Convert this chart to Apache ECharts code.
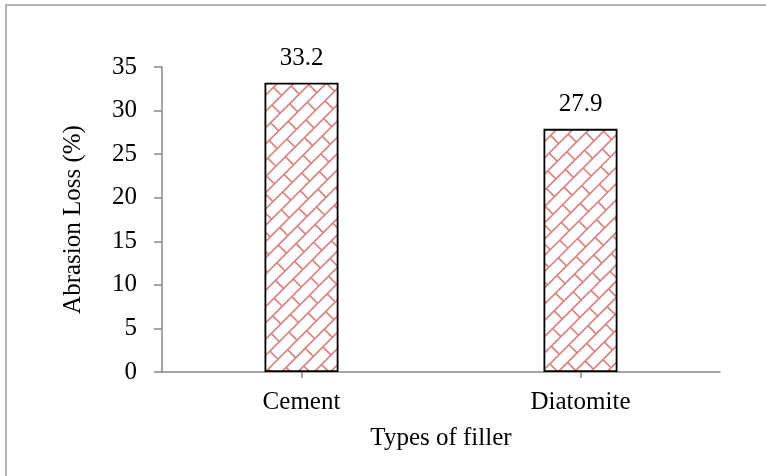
<!DOCTYPE html>
<html>
<head>
<meta charset="utf-8">
<script src="https://cdn.jsdelivr.net/npm/echarts@6/dist/echarts.min.js"></script>
<style>
  html, body { margin: 0; padding: 0; background: #fff; overflow: hidden; }
  #frame { position: absolute; left: 5px; top: 4px; width: 900px; height: 600px; border: 1px solid #b4b4b4; border-width: 2px 0 0 2px; box-sizing: border-box; }
  #chart { position: absolute; left: 0; top: 0; width: 766px; height: 476px; }
</style>
</head>
<body>
<div id="frame"></div>
<div id="chart"></div>
<script>
const categories = ['Cement', 'Diatomite'];
const abrasionLoss = [33.2, 27.9];
const yTicks = { min: 0, max: 35, interval: 5 };

// Brick pattern rotated 45° (drawn on a full-size canvas so no tiling seams)
function makePattern() {
  const W = 766, H = 476;
  const c = document.createElement('canvas');
  c.width = W; c.height = H;
  const ctx = c.getContext('2d');
  ctx.strokeStyle = '#d98482';
  ctx.lineWidth = 1.7;
  ctx.translate(W / 2, H / 2);
  ctx.rotate(-Math.PI / 4);
  const R = 700, h = 11.5, w = 27;
  for (let k = -Math.ceil(R / h); k <= Math.ceil(R / h); k++) {
    const v = k * h;
    ctx.beginPath(); ctx.moveTo(-R, v); ctx.lineTo(R, v); ctx.stroke();
    const off = (k % 2 === 0) ? 0 : w / 2;
    for (let u = -R + off; u <= R; u += w) {
      ctx.beginPath(); ctx.moveTo(u, v); ctx.lineTo(u, v + h); ctx.stroke();
    }
  }
  return c;
}

const chart = echarts.init(document.getElementById('chart'), null, { renderer: 'canvas' });
const font = '"Liberation Serif", "Times New Roman", serif';
const fs = 25;
chart.setOption({
  backgroundColor: 'transparent',
  animation: false,
  grid: { left: 162, right: 46, top: 67, bottom: 104 },
  xAxis: {
    type: 'category',
    data: categories,
    name: 'Types of filler',
    nameLocation: 'middle',
    nameGap: 54,
    nameTextStyle: { fontFamily: font, fontSize: fs, color: '#000' },
    axisLine: { lineStyle: { color: '#868686', width: 1.5 } },
    axisTick: { show: true, alignWithLabel: true, length: 6, lineStyle: { color: '#868686', width: 1.5 } },
    axisLabel: { fontFamily: font, fontSize: fs, color: '#000', margin: 18 }
  },
  yAxis: {
    type: 'value',
    min: yTicks.min, max: yTicks.max, interval: yTicks.interval,
    name: 'Abrasion Loss (%)',
    nameLocation: 'middle',
    nameGap: 76,
    nameTextStyle: { fontFamily: font, fontSize: fs, color: '#000' },
    axisLine: { show: true, lineStyle: { color: '#868686', width: 1.5 } },
    axisTick: { show: true, length: 8, lineStyle: { color: '#868686', width: 1.5 } },
    splitLine: { show: false },
    axisLabel: { fontFamily: font, fontSize: fs, color: '#000', margin: 25 }
  },
  series: [{
    type: 'bar',
    data: abrasionLoss,
    barWidth: 74,
    itemStyle: {
      color: { image: makePattern(), repeat: 'no-repeat' },
      borderColor: '#000',
      borderWidth: 1.8
    },
    label: {
      show: true,
      position: 'top',
      distance: 12,
      fontFamily: font,
      fontSize: fs,
      color: '#000',
      formatter: p => p.value.toFixed(1)
    }
  }]
});
</script>
</body>
</html>
